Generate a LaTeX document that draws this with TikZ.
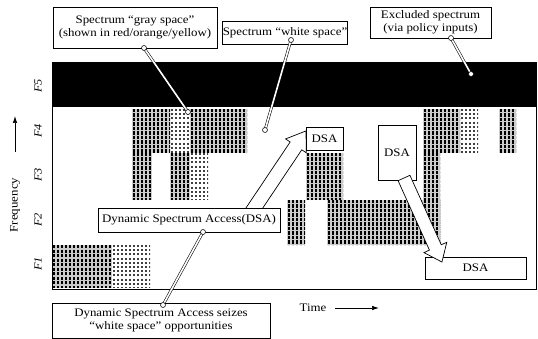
\documentclass[tikz,border=0pt]{standalone}
\usepackage{fontspec}
\setmainfont{Liberation Serif}[FakeStretch=1.12]
\usetikzlibrary{arrows.meta}
\newcommand\denseblk[4]{%
  \begin{scope}
    \clip (#1,#2) rectangle (#3,#4);
    \fill[black!20] (#1,#2) rectangle (#3,#4);
    \pgfmathtruncatemacro\nblk{(#3-#1)/4}
    \foreach \i in {0,...,\nblk}{\draw[line width=2.8pt, dash pattern=on 3.4pt off 1.1pt] ({#1+2+4*\i},#2) -- ({#1+2+4*\i},#4);}
  \end{scope}}
\newcommand\lightblk[4]{%
  \begin{scope}
    \clip (#1,#2) rectangle (#3,#4);
    \pgfmathtruncatemacro\nblk{(#3-#1)/4}
    \foreach \i in {0,...,\nblk}{\draw[black!75, line width=1.1pt, dash pattern=on 2pt off 2.2pt] ({#1+2+4*\i},#2) -- ({#1+2+4*\i},#4);}
  \end{scope}}
\begin{document}
\begin{tikzpicture}[x=1pt,y=-1pt,
  box/.style={draw, fill=white, line width=0.6pt, align=center, inner sep=0pt, font=\fontsize{11.5}{12.5}\selectfont},
  leader/.style={double=white, double distance=1.6pt, line width=0.55pt},
  ring/.style={circle, draw, fill=white, line width=0.55pt, inner sep=0pt, minimum size=5pt},
  barrow/.style={draw, fill=white, line width=0.7pt, line join=miter},
  flabel/.style={rotate=90, font=\fontsize{11}{12}\selectfont\itshape},
  axlabel/.style={font=\fontsize{11.5}{12.5}\selectfont}]
\useasboundingbox (0,0) rectangle (538,339);
% spectrum occupancy blocks
\denseblk{132}{109}{170}{153}
\lightblk{170}{109}{190}{153}
\denseblk{190}{109}{247}{153}
\denseblk{423}{109}{460}{153}
\lightblk{460}{109}{478}{153}
\denseblk{499}{109}{516}{153}
\denseblk{132}{153}{152}{200}
\denseblk{170}{153}{190}{200}
\lightblk{190}{153}{208}{200}
\denseblk{306}{153}{343}{200}
\denseblk{423}{153}{440}{245}
\denseblk{287}{200}{305}{245}
\denseblk{327}{200}{440}{245}
\denseblk{52}{245}{112}{288}
\lightblk{112}{245}{150}{288}
% excluded band and frame
\fill (52,62) rectangle (536,107);
\draw[line width=0.8pt] (52,62) rectangle (536,289);
% axis labels
\node[flabel] (f5) at (38,86) {F5};
\node[flabel] (f4) at (38,131) {F4};
\node[flabel] (f3) at (38,175) {F3};
\node[flabel] (f2) at (38,220) {F2};
\node[flabel] (f1) at (38,264) {F1};
\node[axlabel, rotate=90] (freq) at (15,205) {Frequency};
\coordinate (fa1) at (15,152);
\coordinate (fa2) at (15,116);
\draw[line width=0.7pt, -{Latex[length=7pt,width=4.5pt]}] (fa1) -- (fa2);
\node[axlabel] (time) at (313,308) {Time};
\coordinate (ta1) at (335,308);
\coordinate (ta2) at (379,308);
\draw[line width=0.7pt, -{Latex[length=7pt,width=4.5pt]}] (ta1) -- (ta2);
% arrow 1
\coordinate (a1t) at (245,222);
\coordinate (a1h) at (306,131);
\begin{scope}[shift={(a1t)}, rotate=56.2]
  \draw[barrow] (0,7) -- (91.6,7) -- (91.6,12.5) -- (109.6,0) -- (91.6,-12.5) -- (91.6,-7) -- (0,-7) -- cycle;
\end{scope}
% callout boxes
\node[box, minimum width=164pt, minimum height=41pt] (gray) at (135,27.5) {Spectrum “gray space”\\(shown in red/orange/yellow)};
\node[box, minimum width=124pt, minimum height=23pt] (white) at (285,32.5) {Spectrum “white space”};
\node[box, minimum width=121pt, minimum height=31pt] (excl) at (430.5,22.5) {Excluded spectrum\\(via policy inputs)};
\node[box, minimum width=182pt, minimum height=24pt] (dsatxt) at (189,220) {Dynamic Spectrum Access(DSA)};
\node[box, minimum width=218pt, minimum height=35pt] (seize) at (161,320.5) {Dynamic Spectrum Access seizes\\“white space” opportunities};
\node[box, minimum width=37pt, minimum height=23pt] (dsa1) at (324.5,138.5) {DSA};
\node[box, minimum width=38pt, minimum height=55pt] (dsa2) at (397,152.5) {DSA};
\node[box, minimum width=101pt, minimum height=22pt] (dsa3) at (475.5,268) {DSA};
% arrow 2
\coordinate (a2t) at (404,178);
\coordinate (a2h) at (442,262);
\begin{scope}[shift={(a2t)}, rotate=-65.7]
  \draw[barrow] (0,6.5) -- (76.2,6.5) -- (76.2,12.5) -- (92.2,0) -- (76.2,-12.5) -- (76.2,-6.5) -- (0,-6.5) -- cycle;
\end{scope}
% leaders
\coordinate (g1) at (144,48);
\coordinate (g2) at (188,112);
\coordinate (w1) at (291,40);
\coordinate (w2) at (265,130);
\coordinate (e1) at (451,38);
\coordinate (e2) at (471,74);
\coordinate (d1) at (203,232);
\coordinate (d2) at (163,305);
\draw[leader] (g1) -- (g2);
\draw[leader] (w1) -- (w2);
\draw[leader] (e1) -- (e2);
\draw[leader] (d1) -- (d2);
\node[ring] (rg1) at (g1) {};
\node[ring] (rg2) at (g2) {};
\node[ring] (rw1) at (w1) {};
\node[ring] (rw2) at (w2) {};
\node[ring] (re1) at (e1) {};
\node[ring] (re2) at (e2) {};
\node[ring] (rd1) at (d1) {};
\node[ring] (rd2) at (d2) {};
\end{tikzpicture}
\end{document}
